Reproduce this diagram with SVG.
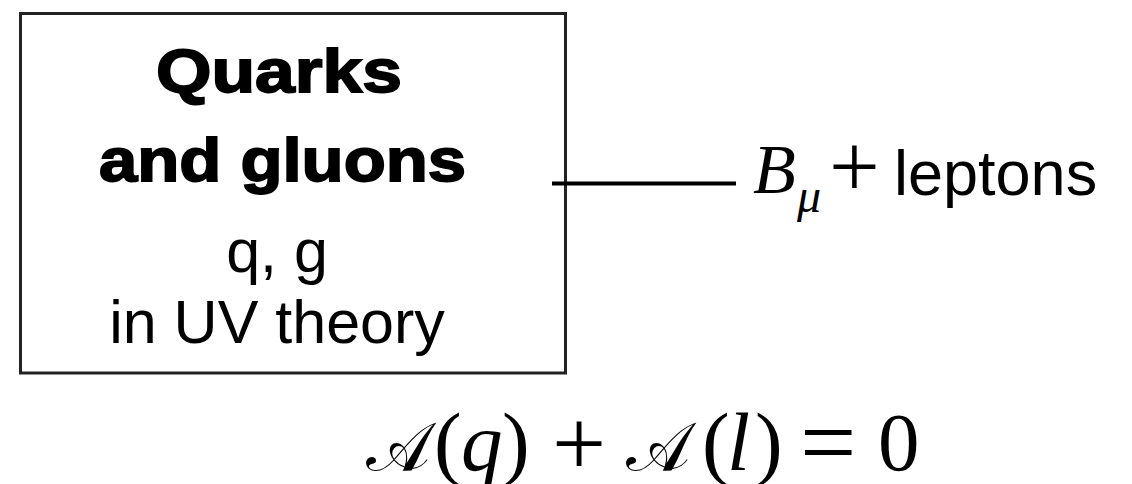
<svg xmlns="http://www.w3.org/2000/svg" width="1132" height="484" viewBox="0 0 1132 484">
<style>
.box{fill:#fff;stroke:#222;stroke-width:3}
.hd{font-family:"Liberation Sans",Arial,sans-serif;font-weight:700;font-size:62px;fill:#000;stroke:#000;stroke-width:1.8;text-anchor:middle}
.tx{font-family:"Liberation Sans",Arial,sans-serif;font-size:61px;fill:#000;text-anchor:middle}
.sa{font-family:"Liberation Sans",Arial,sans-serif;fill:#000}
.se{font-family:"Liberation Serif","Times New Roman",serif;fill:#000}
.it{font-style:italic}
.ln{stroke:#000;stroke-width:4;fill:none}
</style>
<g id="node-quarks">
<rect class="box" x="20.5" y="13.5" width="545" height="359.5"/>
<text class="hd" x="279" y="92" textLength="246" lengthAdjust="spacingAndGlyphs">Quarks</text>
<text class="hd" x="282.5" y="181" textLength="367" lengthAdjust="spacingAndGlyphs">and gluons</text>
<text class="tx" x="277" y="272">q, g</text>
<text class="tx" x="277" y="343">in UV theory</text>
</g>
<g id="connectors">
<line class="ln" x1="552" y1="183.5" x2="736" y2="183.5"/>
</g>
<g id="node-leptons">
<text class="se it" x="753" y="193" font-size="70">B</text>
<text class="se it" x="797" y="212" font-size="48">μ</text>
<text class="se" x="829" y="197" font-size="90">+</text>
<text class="sa" x="894" y="195" font-size="63">leptons</text>
</g>
<g id="equation">
<text class="se" x="366" y="470" font-size="68">𝒜</text>
<text class="se" x="434" y="470" font-size="83">(</text>
<text class="se it" x="461" y="470" font-size="83">q</text>
<text class="se" x="502" y="470" font-size="83">)</text>
<text class="se" x="552" y="475" font-size="96">+</text>
<text class="se" x="626" y="470" font-size="68">𝒜</text>
<text class="se" x="702" y="470" font-size="83">(</text>
<text class="se it" x="727" y="470" font-size="83">l</text>
<text class="se" x="755" y="470" font-size="83">)</text>
<text class="se" x="800" y="476" font-size="100">=</text>
<text class="se" x="878" y="470" font-size="83">0</text>
</g>
</svg>
